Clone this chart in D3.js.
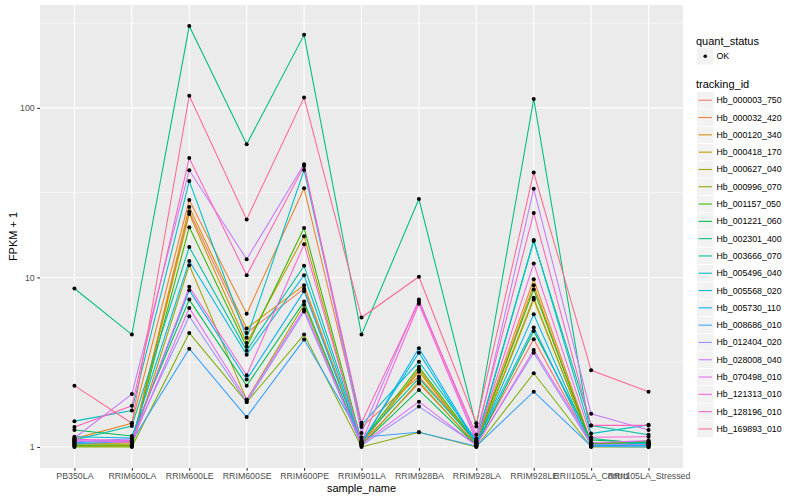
<!DOCTYPE html>
<html><head><meta charset="utf-8">
<script src="https://cdn.jsdelivr.net/npm/d3@7"></script>
<style>body{margin:0;background:#fff}text{font-family:"Liberation Sans",Arial,sans-serif}</style>
</head><body><svg id="c" width="800" height="500"></svg>
<script>
const samples = ["PB350LA","RRIM600LA","RRIM600LE","RRIM600SE","RRIM600PE","RRIM901LA","RRIM928BA","RRIM928LA","RRIM928LE","RRII105LA_Control","RRII105LA_Stressed"];
const trackingIds = ["Hb_000003_750","Hb_000032_420","Hb_000120_340","Hb_000418_170","Hb_000627_040","Hb_000996_070","Hb_001157_050","Hb_001221_060","Hb_002301_400","Hb_003666_070","Hb_005496_040","Hb_005568_020","Hb_005730_110","Hb_008686_010","Hb_012404_020","Hb_028008_040","Hb_070498_010","Hb_121313_010","Hb_128196_010","Hb_169893_010"];
const colors = ["#F8766D","#EA8331","#D89000","#C09B00","#A3A500","#7CAE00","#39B600","#00BB4E","#00BF7D","#00C1A3","#00BFC4","#00BAE0","#00B0F6","#35A2FF","#9590FF","#C77CFF","#E76BF3","#FA62DB","#FF62BC","#FF6C91"];
// FPKM + 1 per tracking id, in sample order
const s00 = [1.08,1.06,24.5,4.7,8.6,1.05,2.37,1.04,4.32,1.03,1.02];
const s01 = [1.12,1.38,28.6,6.1,33.6,1.31,2.6,1.08,9.75,1.06,1.05];
const s02 = [1.05,1.04,26,5.0,9.0,1.06,2.78,1.05,9.0,1.02,1.04];
const s03 = [1.03,1.02,23.7,4.1,17.5,1.04,2.87,1.03,7.6,1.01,1.03];
const s04 = [1.01,1.01,11.8,1.9,6.9,1.02,2.43,1.02,7.4,1.04,1.06];
const s05 = [1.0,1.0,4.7,1.84,4.6,1.0,1.22,1.0,2.72,1.0,1.0];
const s06 = [1.02,1.03,19.8,3.9,19.6,1.08,2.97,1.06,8.5,1.05,1.08];
const s07 = [1.26,1.16,7.4,2.3,7.2,1.03,2.17,1.02,4.83,1.1,1.06];
const s08 = [8.6,4.6,304,61,270,4.6,29,1.32,113,1.12,1.04];
const s09 = [1.1,1.33,15.1,3.7,11.7,1.1,2.54,1.07,16.4,1.34,1.18];
const s10 = [1.42,1.64,37,4.4,43,1.35,3.18,1.1,16.6,1.2,1.35];
const s11 = [1.15,1.13,12.5,3.5,10.3,1.07,3.6,1.04,6.06,1.03,1.05];
const s12 = [1.06,1.1,8.4,2.5,8.3,1.05,3.82,1.06,5.06,1.02,1.02];
const s13 = [1.04,1.08,3.8,1.5,4.3,1.14,1.22,1.01,2.12,1.01,1.0];
const s14 = [1.07,1.12,5.9,1.84,6.3,1.02,1.73,1.03,3.6,1.03,1.03];
const s15 = [1.13,2.05,42.9,12.8,46.5,1.21,7.4,1.12,33.3,1.57,1.26];
const s16 = [1.09,1.07,6.6,1.9,6.5,1.04,1.85,1.02,3.73,1.06,1.09];
const s17 = [1.11,1.09,8.8,2.65,15.7,1.06,7.0,1.08,12.1,1.14,1.15];
const s18 = [1.31,1.75,50.6,10.3,45.4,1.39,7.2,1.18,24,1.34,1.34];
const s19 = [2.3,1.38,118,22,115,5.8,10.1,1.38,41.6,2.83,2.12];
const seriesValues = [s00,s01,s02,s03,s04,s05,s06,s07,s08,s09,s10,s11,s12,s13,s14,s15,s16,s17,s18,s19];
const yTicks = [1,10,100];
const yMinor = [Math.sqrt(10),Math.sqrt(1000),Math.sqrt(100000)];

const svg = d3.select("#c");
const P = {l:40, r:683, t:5, b:468};
const allV = seriesValues.flat();
const lmin = Math.log10(d3.min(allV)), lmax = Math.log10(d3.max(allV));
const pad = 0.05*(lmax-lmin);
const y = d3.scaleLog().domain([Math.pow(10,lmin-pad), Math.pow(10,lmax+pad)]).range([P.b,P.t]);
const x = d3.scalePoint().domain(samples).range([P.l,P.r]).padding(0.6);

svg.append("rect").attr("x",P.l).attr("y",P.t).attr("width",P.r-P.l).attr("height",P.b-P.t).attr("fill","#EBEBEB");
svg.selectAll(".gmin").data(yMinor).enter().append("line")
  .attr("x1",P.l).attr("x2",P.r).attr("y1",d=>y(d)).attr("y2",d=>y(d)).attr("stroke","#fff").attr("stroke-width",0.55);
svg.selectAll(".gy").data(yTicks).enter().append("line")
  .attr("x1",P.l).attr("x2",P.r).attr("y1",d=>y(d)).attr("y2",d=>y(d)).attr("stroke","#fff").attr("stroke-width",1.1);
svg.selectAll(".gx").data(samples).enter().append("line")
  .attr("y1",P.t).attr("y2",P.b).attr("x1",d=>x(d)).attr("x2",d=>x(d)).attr("stroke","#fff").attr("stroke-width",1.1);

const line = d3.line().x((d,i)=>x(samples[i])).y(d=>y(d));
const gL = svg.append("g");
seriesValues.forEach((vals,k)=>{
  gL.append("path").attr("d",line(vals)).attr("fill","none").attr("stroke",colors[k]).attr("stroke-width",1.07);
});
const gP = svg.append("g");
seriesValues.forEach(vals=>{
  vals.forEach((v,i)=>gP.append("circle").attr("cx",x(samples[i])).attr("cy",y(v)).attr("r",2).attr("fill","#000"));
});

// axes
const ya = svg.append("g").attr("transform",`translate(${P.l},0)`)
  .call(d3.axisLeft(y).tickValues(yTicks).tickFormat(d3.format("d")).tickSize(2.75).tickPadding(2.5));
const xa = svg.append("g").attr("transform",`translate(0,${P.b})`)
  .call(d3.axisBottom(x).tickSize(2.75).tickPadding(2.5));
[ya,xa].forEach(a=>{
  a.select(".domain").remove();
  a.selectAll(".tick line").attr("stroke","#333").attr("stroke-width",1.07);
  a.selectAll(".tick text").attr("fill","#4D4D4D").style("font-size","8.8px").style("font-family","'Liberation Sans',Arial,sans-serif");
});
svg.append("text").attr("x",(P.l+P.r)/2).attr("y",492).attr("text-anchor","middle").style("font-size","11px").attr("fill","#000").text("sample_name");
svg.append("text").attr("transform",`translate(17,${(P.t+P.b)/2}) rotate(-90)`).attr("text-anchor","middle").style("font-size","11px").attr("fill","#000").text("FPKM + 1");

// legend
const lx = 696;
svg.append("text").attr("x",lx).attr("y",45).style("font-size","11px").text("quant_status");
svg.append("rect").attr("x",lx+1).attr("y",48).attr("width",16.5).attr("height",16.5).attr("fill","#F2F2F2");
svg.append("circle").attr("cx",lx+9.25).attr("cy",56.25).attr("r",1.8).attr("fill","#000");
svg.append("text").attr("x",lx+20.5).attr("y",59.3).style("font-size","8.8px").text("OK");
svg.append("text").attr("x",lx).attr("y",88).style("font-size","11px").text("tracking_id");
const key = svg.append("g").selectAll("g").data(trackingIds).enter().append("g")
  .attr("transform",(d,i)=>`translate(${lx+1},${92+i*17.3})`);
key.append("rect").attr("width",16.5).attr("height",16.5).attr("fill","#F2F2F2");
key.append("line").attr("x1",1.5).attr("x2",15).attr("y1",8.25).attr("y2",8.25).attr("stroke",(d,i)=>colors[i]).attr("stroke-width",1.07);
key.append("text").attr("x",19.5).attr("y",11.3).style("font-size","8.8px").text(d=>d);
</script></body></html>
